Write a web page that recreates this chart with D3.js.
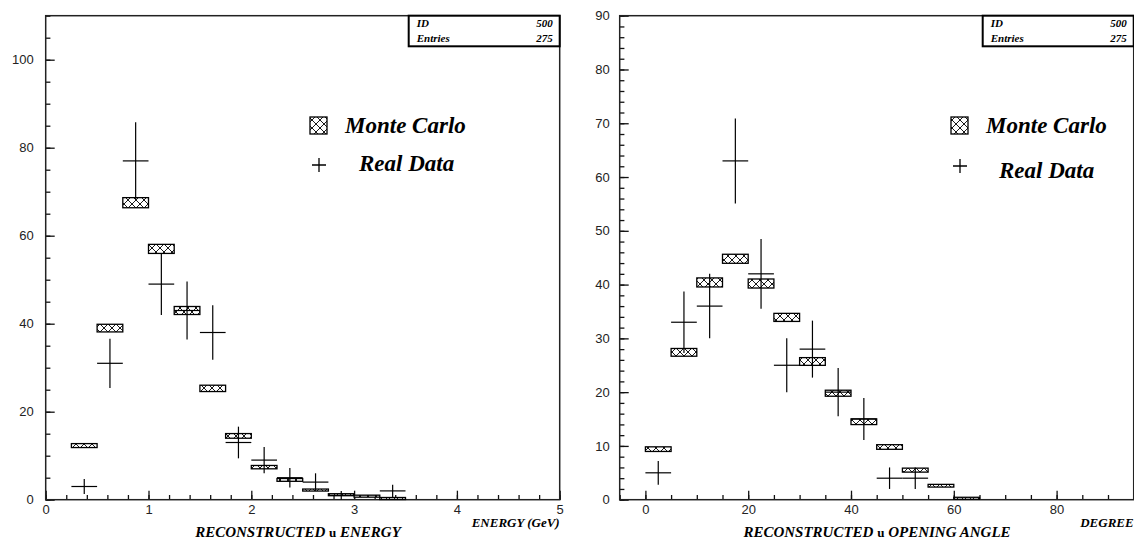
<!DOCTYPE html>
<html>
<head>
<meta charset="utf-8">
<script src="https://cdn.jsdelivr.net/npm/d3@7"></script>
<style>
  body { margin: 0; background: #fff; }
  svg { display: block; }
  .tick text { font-family: "Liberation Sans", Arial, sans-serif; font-size: 13px; fill: #222; }
  .tick line { stroke: #111; stroke-width: 1.3; }
  .ttl { font-family: "Liberation Serif", "Times New Roman", Times, "DejaVu Serif", serif; font-weight: 700; font-style: italic; fill: #000; }
</style>
</head>
<body>
<svg id="chart" width="1134" height="539"></svg>
<script>
// left histogram: reconstructed mu energy, bins 0.25 GeV wide (low edges)
const energyBins = [0.25, 0.5, 0.75, 1.0, 1.25, 1.5, 1.75, 2.0, 2.25, 2.5, 2.75, 3.0, 3.25];
const mcEnergy    = [12.3, 39, 67.5, 57, 43, 25.3, 14.5, 7.4, 4.5, 2.2, 1.2, 0.9, 0.4];
const mcEnergyErr = [0.45, 0.87, 1.15, 1.03, 0.91, 0.72, 0.53, 0.38, 0.32, 0.22, 0.16, 0.13, 0.1];
const dataEnergy    = [3, 31, 77, 49, 43, 38, 13, 9, 5, 4, 1, 0, 2];
const dataEnergyErr = [1.7, 5.6, 8.8, 7, 6.6, 6.2, 3.6, 3, 2.2, 2, 1, 0, 1.4];

// right histogram: reconstructed mu opening angle, bins 5 degrees wide
const angleBins = [0, 5, 10, 15, 20, 25, 30, 35, 40, 45, 50, 55, 60];
const mcAngle    = [9.4, 27.4, 40.4, 44.8, 40.2, 33.9, 25.7, 19.8, 14.5, 9.8, 5.5, 2.6, 0.3];
const mcAngleErr = [0.43, 0.72, 0.84, 0.84, 0.84, 0.75, 0.72, 0.56, 0.53, 0.43, 0.37, 0.25, 0.15];
const dataAngle    = [5, 33, 36, 63, 42, 25, 28, 20, 15, 4, 4, 0, 0];
const dataAngleErr = [2.2, 5.7, 6, 7.9, 6.5, 5, 5.3, 4.5, 3.9, 2, 2, 0, 0];

const energyTicks = [0, 1, 2, 3, 4, 5];
const angleTicks = [0, 20, 40, 60, 80];
const energyCountTicks = [0, 20, 40, 60, 80, 100];
const angleCountTicks = [0, 10, 20, 30, 40, 50, 60, 70, 80, 90];

const statsRows = [["ID", "500"], ["Entries", "275"]];
const legendLabels = ["Monte Carlo", "Real Data"];

const svg = d3.select("#chart");
const fmt = d3.format("~g");

// cross hatch fill used for the MC boxes
const pat = svg.append("defs").append("pattern")
  .attr("id", "hatch")
  .attr("patternUnits", "userSpaceOnUse")
  .attr("width", 8).attr("height", 8);
pat.append("rect").attr("width", 8).attr("height", 8).attr("fill", "#fff");
pat.append("path").attr("d", "M0,0L8,8M8,0L0,8")
  .attr("stroke", "#000").attr("stroke-width", 0.9);

const yTop = 15.7, yBot = 499.7;

function drawPanel(p) {
  const g = svg.append("g");
  const x = d3.scaleLinear().domain(p.xDomain).range(p.xRange);
  const y = d3.scaleLinear().domain(p.yDomain).range([yBot, yTop]);
  const left = p.xRange[0], right = p.xRange[1];

  // minor + major ticks, pointing into the frame
  g.append("g").attr("transform", `translate(${left},0)`)
    .call(d3.axisLeft(y).tickValues(d3.range(0, p.yDomain[1] + 0.001, p.yMinor)).tickSize(-4.7).tickFormat(""))
    .call(a => a.select(".domain").remove());
  g.append("g").attr("transform", `translate(${left},0)`)
    .call(d3.axisLeft(y).tickValues(p.yTicks).tickSize(-9).tickPadding(p.yPad).tickFormat(fmt))
    .call(a => a.select(".domain").remove());
  g.append("g").attr("transform", `translate(0,${yBot})`)
    .call(d3.axisBottom(x).tickValues(d3.range(p.xMinorStart, p.xDomain[1] + 0.001, p.xMinor)).tickSize(-4.7).tickFormat(""))
    .call(a => a.select(".domain").remove());
  g.append("g").attr("transform", `translate(0,${yBot})`)
    .call(d3.axisBottom(x).tickValues(p.xTicks).tickSize(-9).tickPadding(5).tickFormat(fmt))
    .call(a => a.select(".domain").remove());

  // frame
  g.append("rect")
    .attr("x", left).attr("y", yTop)
    .attr("width", right - left).attr("height", yBot - yTop)
    .attr("fill", "none").attr("stroke", "#222").attr("stroke-width", 1.5);

  // Monte Carlo boxes
  g.selectAll(".mc").data(p.bins).join("rect")
    .attr("class", "mc")
    .attr("x", d => x(d))
    .attr("width", d => x(d + p.binW) - x(d))
    .attr("y", (d, i) => y(p.mc[i] + p.mcErr[i]))
    .attr("height", (d, i) => Math.max(2, y(p.mc[i] - p.mcErr[i]) - y(p.mc[i] + p.mcErr[i])))
    .attr("fill", "url(#hatch)")
    .attr("stroke", "#000").attr("stroke-width", 1.3);

  // real data crosses
  const pts = p.bins.map((d, i) => ({ lo: d, v: p.data[i], e: p.dataErr[i] })).filter(d => d.v > 0);
  const cr = g.selectAll(".cross").data(pts).join("g").attr("class", "cross")
    .attr("stroke", "#000").attr("stroke-width", 1.2);
  cr.append("line")
    .attr("x1", d => x(d.lo)).attr("x2", d => x(d.lo + p.binW))
    .attr("y1", d => y(d.v)).attr("y2", d => y(d.v));
  cr.append("line")
    .attr("x1", d => x(d.lo + p.binW / 2)).attr("x2", d => x(d.lo + p.binW / 2))
    .attr("y1", d => y(d.v - d.e)).attr("y2", d => y(d.v + d.e));

  // statistics box
  const sb = g.append("g");
  sb.append("rect")
    .attr("x", right - 151).attr("y", yTop)
    .attr("width", 151).attr("height", 30.6)
    .attr("fill", "#fff").attr("stroke", "#000").attr("stroke-width", 2);
  statsRows.forEach((r, i) => {
    sb.append("text").attr("class", "ttl").attr("font-size", 11)
      .attr("x", right - 143).attr("y", 27 + i * 15).text(r[0]);
    sb.append("text").attr("class", "ttl").attr("font-size", 11)
      .attr("text-anchor", "end")
      .attr("x", right - 7).attr("y", 27 + i * 15).text(r[1]);
  });

  // legend
  const lg = g.append("g");
  lg.append("rect")
    .attr("x", p.leg.x).attr("y", 117).attr("width", 17).attr("height", 17)
    .attr("fill", "url(#hatch)").attr("stroke", "#000").attr("stroke-width", 1.3);
  lg.append("text").attr("class", "ttl").attr("font-size", 23)
    .attr("x", p.leg.x + 35).attr("y", 133).text(legendLabels[0]);
  const pc = { x: p.leg.x + 9, y: p.leg.plusY };
  lg.append("path")
    .attr("d", `M${pc.x - 7},${pc.y}H${pc.x + 7}M${pc.x},${pc.y - 7}V${pc.y + 7}`)
    .attr("stroke", "#000").attr("stroke-width", 1.3);
  lg.append("text").attr("class", "ttl").attr("font-size", 23)
    .attr("x", p.leg.x + p.leg.realDx).attr("y", p.leg.realY).text(legendLabels[1]);

  // axis titles
  g.append("text").attr("class", "ttl").attr("font-size", 13)
    .attr("text-anchor", "end")
    .attr("x", right).attr("y", 527).text(p.unit);
  const t = g.append("text").attr("class", "ttl").attr("font-size", 15)
    .attr("text-anchor", "middle")
    .attr("x", p.titleX).attr("y", 537);
  t.append("tspan").text("RECONSTRUCTED ");
  t.append("tspan").attr("font-style", "normal").attr("font-size", 13).text("u");
  t.append("tspan").text(" " + p.title);
}

drawPanel({
  xDomain: [0, 5], xRange: [45.7, 559.7], yDomain: [0, 110],
  xTicks: energyTicks, xMinor: 0.2, xMinorStart: 0,
  yTicks: energyCountTicks, yMinor: 5, yPad: 12,
  bins: energyBins, binW: 0.25,
  mc: mcEnergy, mcErr: mcEnergyErr, data: dataEnergy, dataErr: dataEnergyErr,
  leg: { x: 310, plusY: 165, realDx: 49, realY: 171 },
  unit: "ENERGY (GeV)", title: "ENERGY", titleX: 298
});

drawPanel({
  xDomain: [-5, 95], xRange: [619.7, 1133.7], yDomain: [0, 90],
  xTicks: angleTicks, xMinor: 5, xMinorStart: -5,
  yTicks: angleCountTicks, yMinor: 2, yPad: 10,
  bins: angleBins, binW: 5,
  mc: mcAngle, mcErr: mcAngleErr, data: dataAngle, dataErr: dataAngleErr,
  leg: { x: 951, plusY: 166, realDx: 48, realY: 178 },
  unit: "DEGREE", title: "OPENING ANGLE", titleX: 877
});
</script>
</body>
</html>
